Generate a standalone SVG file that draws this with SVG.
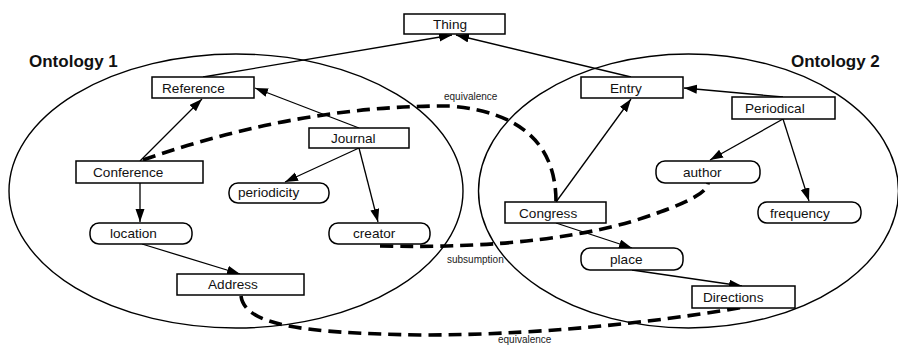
<svg xmlns="http://www.w3.org/2000/svg" width="898" height="345" viewBox="0 0 898 345">
<defs>
<marker id="ah" markerUnits="userSpaceOnUse" markerWidth="14" markerHeight="10" refX="13" refY="4.5" orient="auto">
<path d="M0,0 L13,4.5 L0,9 z" fill="#000"/>
</marker>
<style>
.bx{fill:#fff;stroke:#000;stroke-width:1.5}
.pr{fill:#fff;stroke:#000;stroke-width:1.5}
.t{font-family:"Liberation Sans",Arial,sans-serif;font-size:13.6px;fill:#111}
.h{font-family:"Liberation Sans",Arial,sans-serif;font-size:17px;font-weight:bold;fill:#111}
.s{font-family:"Liberation Sans",Arial,sans-serif;font-size:10px;fill:#222}
.ln{fill:none;stroke:#000;stroke-width:1.3;marker-end:url(#ah)}
.ds{fill:none;stroke:#000;stroke-width:3.6;stroke-dasharray:13 7}
.el{fill:none;stroke:#000;stroke-width:1.4}
</style>
</defs>
<rect width="898" height="345" fill="#fff"/>
<g id="ontology1">
<ellipse class="el" cx="236" cy="191" rx="227" ry="137"/>
<text class="h" x="29" y="67">Ontology 1</text>
</g>
<g id="ontology2">
<ellipse class="el" cx="688.5" cy="191" rx="210" ry="137"/>
<text class="h" x="791" y="67">Ontology 2</text>
</g>
<g id="connectors">
<line class="ln" x1="203" y1="77" x2="452" y2="35"/>
<line class="ln" x1="631" y1="77" x2="456" y2="35"/>
<line class="ln" x1="140" y1="161" x2="202" y2="99"/>
<line class="ln" x1="359" y1="128" x2="255" y2="88"/>
<line class="ln" x1="359" y1="148" x2="285" y2="182"/>
<line class="ln" x1="359" y1="148" x2="378" y2="222"/>
<line class="ln" x1="140" y1="183" x2="140" y2="222"/>
<line class="ln" x1="142" y1="244" x2="240" y2="274"/>
<line class="ln" x1="783" y1="97" x2="684" y2="88"/>
<line class="ln" x1="783" y1="119" x2="710" y2="160"/>
<line class="ln" x1="783" y1="119" x2="809" y2="201"/>
<line class="ln" x1="556" y1="202" x2="631" y2="99"/>
<line class="ln" x1="556" y1="223" x2="632" y2="248"/>
<line class="ln" x1="632" y1="270" x2="742" y2="286"/>
<path class="ds" d="M143,160 Q300,105 450,106 Q556,115 556,202"/>
<path class="ds" d="M380,246 Q560,250 660,212 Q708,195 708,183"/>
<path class="ds" d="M241,296 C245,325 300,333 420,335 C560,335 680,318 745,307"/>
<text class="s" x="444" y="100">equivalence</text>
<text class="s" x="447" y="263">subsumption</text>
<text class="s" x="498" y="343">equivalence</text>
</g>
<g id="Thing"><rect class="bx" x="404" y="14" width="101" height="20"/><text class="t" x="433" y="29">Thing</text></g>
<g id="Reference"><rect class="bx" x="152" y="77" width="102" height="21"/><text class="t" x="162" y="93">Reference</text></g>
<g id="Journal"><rect class="bx" x="309" y="128" width="100" height="20"/><text class="t" x="331" y="143">Journal</text></g>
<g id="Conference"><rect class="bx" x="76" y="161" width="127" height="22"/><text class="t" x="93" y="177">Conference</text></g>
<g id="periodicity"><rect class="pr" x="229" y="183" width="100" height="20" rx="9"/><text class="t" x="238" y="197">periodicity</text></g>
<g id="location"><rect class="pr" x="90" y="223" width="102" height="21" rx="9"/><text class="t" x="110" y="238">location</text></g>
<g id="creator"><rect class="pr" x="329" y="223" width="101" height="21" rx="9"/><text class="t" x="353" y="238">creator</text></g>
<g id="Address"><rect class="bx" x="177" y="274" width="127" height="21"/><text class="t" x="208" y="289">Address</text></g>
<g id="Entry"><rect class="bx" x="581" y="77" width="102" height="21"/><text class="t" x="610" y="93">Entry</text></g>
<g id="Periodical"><rect class="bx" x="732" y="97" width="103" height="22"/><text class="t" x="745" y="113">Periodical</text></g>
<g id="author"><rect class="pr" x="656" y="161" width="104" height="22" rx="9"/><text class="t" x="683" y="177">author</text></g>
<g id="Congress"><rect class="bx" x="505" y="202" width="101" height="21"/><text class="t" x="519" y="218">Congress</text></g>
<g id="frequency"><rect class="pr" x="758" y="202" width="103" height="21" rx="9"/><text class="t" x="770" y="218">frequency</text></g>
<g id="place"><rect class="pr" x="581" y="248" width="102" height="22" rx="9"/><text class="t" x="610" y="264">place</text></g>
<g id="Directions"><rect class="bx" x="692" y="286" width="103" height="22"/><text class="t" x="703" y="302">Directions</text></g>
</svg>
